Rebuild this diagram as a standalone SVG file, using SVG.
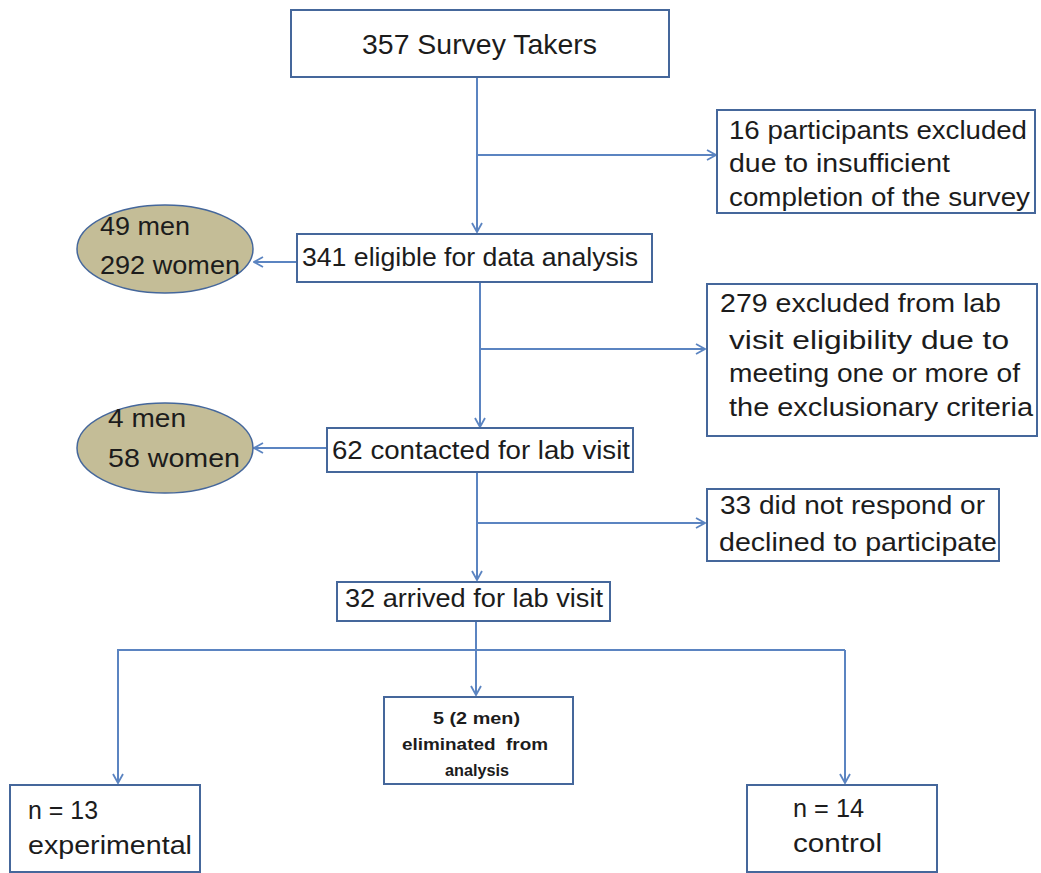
<svg xmlns="http://www.w3.org/2000/svg" width="1041" height="873" viewBox="0 0 1041 873">
<style>
.box{fill:#fff;stroke:#45679b;stroke-width:2}
.ell{fill:#c4bd97;stroke:#45679b;stroke-width:1.5}
.t{font-family:"Liberation Sans",Arial,sans-serif;font-size:25px;fill:#1c1c1c}
.big{font-size:28px}
.sm{font-size:16px;font-weight:bold}
.c{fill:none;stroke:#5b84c1;stroke-width:2}
</style>
<defs>
<marker id="ah" viewBox="0 0 12 12" refX="11" refY="6" markerWidth="12" markerHeight="12" markerUnits="userSpaceOnUse" orient="auto">
<path d="M2,1 L11,6 L2,11" fill="none" stroke="#5b84c1" stroke-width="1.8"/>
</marker>
</defs>
<g id="connectors">
<path class="c" d="M477,77 V232" marker-end="url(#ah)"/>
<path class="c" d="M477,155 H716" marker-end="url(#ah)"/>
<path class="c" d="M297,262 H254" marker-end="url(#ah)"/>
<path class="c" d="M480,282 V427" marker-end="url(#ah)"/>
<path class="c" d="M480,349 H705" marker-end="url(#ah)"/>
<path class="c" d="M327,448 H254" marker-end="url(#ah)"/>
<path class="c" d="M477,472 V580" marker-end="url(#ah)"/>
<path class="c" d="M477,523 H705" marker-end="url(#ah)"/>
<path class="c" d="M476,621 V695" marker-end="url(#ah)"/>
<path class="c" d="M845,650 H118 V783" marker-end="url(#ah)"/>
<path class="c" d="M845,650 V783" marker-end="url(#ah)"/>
</g>
<g id="n1">
<rect class="box" x="291" y="10" width="378" height="67"/>
<text class="t big" x="362" y="54" textLength="235" lengthAdjust="spacingAndGlyphs">357 Survey Takers</text>
</g>
<g id="n2">
<rect class="box" x="717" y="110" width="318" height="103"/>
<text class="t" x="729" y="139" textLength="298" lengthAdjust="spacingAndGlyphs">16 participants excluded</text>
<text class="t" x="729" y="172" textLength="221" lengthAdjust="spacingAndGlyphs">due to insufficient</text>
<text class="t" x="729" y="206" textLength="301" lengthAdjust="spacingAndGlyphs">completion of the survey</text>
</g>
<g id="n3">
<rect class="box" x="297" y="234" width="355" height="48"/>
<text class="t" x="302" y="266" textLength="336" lengthAdjust="spacingAndGlyphs">341 eligible for data analysis</text>
</g>
<g id="e1">
<ellipse class="ell" cx="165" cy="249" rx="88" ry="44"/>
<text class="t" x="100" y="235" textLength="90" lengthAdjust="spacingAndGlyphs">49 men</text>
<text class="t" x="100" y="274" textLength="140" lengthAdjust="spacingAndGlyphs">292 women</text>
</g>
<g id="n4">
<rect class="box" x="707" y="284" width="330" height="152"/>
<text class="t" x="720" y="312" textLength="281" lengthAdjust="spacingAndGlyphs">279 excluded from lab</text>
<text class="t" x="729" y="349" textLength="280" lengthAdjust="spacingAndGlyphs">visit eligibility due to</text>
<text class="t" x="729" y="382" textLength="291" lengthAdjust="spacingAndGlyphs">meeting one or more of</text>
<text class="t" x="729" y="416" textLength="304" lengthAdjust="spacingAndGlyphs">the exclusionary criteria</text>
</g>
<g id="n5">
<rect class="box" x="327" y="428" width="306" height="44"/>
<text class="t" x="332" y="459" textLength="298" lengthAdjust="spacingAndGlyphs">62 contacted for lab visit</text>
</g>
<g id="e2">
<ellipse class="ell" cx="165" cy="448" rx="88" ry="45"/>
<text class="t" x="108" y="427" textLength="78" lengthAdjust="spacingAndGlyphs">4 men</text>
<text class="t" x="108" y="467" textLength="132" lengthAdjust="spacingAndGlyphs">58 women</text>
</g>
<g id="n6">
<rect class="box" x="707" y="489" width="292" height="72"/>
<text class="t" x="720" y="514" textLength="265" lengthAdjust="spacingAndGlyphs">33 did not respond or</text>
<text class="t" x="719" y="551" textLength="278" lengthAdjust="spacingAndGlyphs">declined to participate</text>
</g>
<g id="n7">
<rect class="box" x="337" y="582" width="273" height="39"/>
<text class="t" x="345" y="607" textLength="258" lengthAdjust="spacingAndGlyphs">32 arrived for lab visit</text>
</g>
<g id="n8">
<rect class="box" x="384" y="697" width="189" height="87"/>
<text class="t sm" x="433" y="724" textLength="87" lengthAdjust="spacingAndGlyphs">5 (2 men)</text>
<text class="t sm" x="402" y="750" textLength="146" lengthAdjust="spacingAndGlyphs" xml:space="preserve">eliminated  from</text>
<text class="t sm" x="445" y="776" textLength="64" lengthAdjust="spacingAndGlyphs">analysis</text>
</g>
<g id="n9">
<rect class="box" x="10" y="785" width="190" height="87"/>
<text class="t" x="28" y="819" textLength="70" lengthAdjust="spacingAndGlyphs">n = 13</text>
<text class="t" x="28" y="854" textLength="164" lengthAdjust="spacingAndGlyphs">experimental</text>
</g>
<g id="n10">
<rect class="box" x="747" y="785" width="190" height="87"/>
<text class="t" x="793" y="817" textLength="71" lengthAdjust="spacingAndGlyphs">n = 14</text>
<text class="t" x="793" y="852" textLength="89" lengthAdjust="spacingAndGlyphs">control</text>
</g>
</svg>
